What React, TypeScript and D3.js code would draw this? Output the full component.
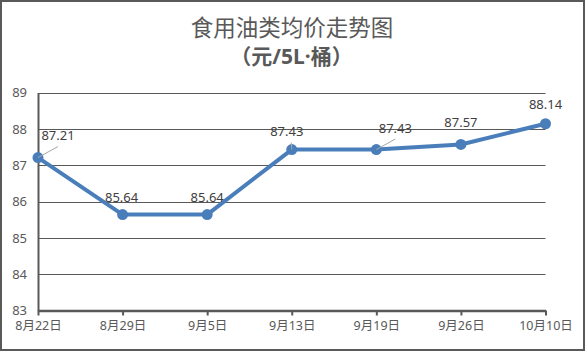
import React, { useEffect, useRef } from 'react';
import * as d3 from 'd3';

const categories = ['8月22日', '8月29日', '9月5日', '9月13日', '9月19日', '9月26日', '10月10日'];
const prices = [87.21, 85.64, 85.64, 87.43, 87.43, 87.57, 88.14];
const yTicks = [83, 84, 85, 86, 87, 88, 89];

// label offsets from the point (dx, dy, leader line?)
const labelPos: [number, number, boolean][] = [
  [20, -22, true],
  [-1, -17, false],
  [0, -17, false],
  [-5, -18, true],
  [19, -21, true],
  [0, -22, false],
  [0, -19, false],
];

const W = 586;
const H = 352;
const font = '"Noto Sans", "Noto Sans CJK SC", sans-serif';
const textColor = '#595959';

export default function App() {
  const ref = useRef<SVGSVGElement>(null);

  useEffect(() => {
    const svg = d3.select(ref.current);
    svg.selectAll('*').remove();

    const left = 38;
    const right = 545.5;
    const top = 92.5;
    const bottom = 310.5;

    const x = d3.scalePoint<string>().domain(categories).range([left, right]);
    const y = d3.scaleLinear().domain([83, 89]).range([bottom, top]);

    svg.append('rect')
      .attr('x', 1).attr('y', 1)
      .attr('width', W - 3).attr('height', H - 3)
      .attr('fill', '#fff')
      .attr('stroke', '#595959')
      .attr('stroke-width', 2);

    svg.append('text')
      .attr('x', 292).attr('y', 35.5)
      .attr('text-anchor', 'middle')
      .attr('font-family', font)
      .attr('font-size', 22.5)
      .attr('fill', textColor)
      .text('食用油类均价走势图');

    svg.append('text')
      .attr('x', 291.5).attr('y', 64)
      .attr('text-anchor', 'middle')
      .attr('font-family', font)
      .attr('font-size', 21)
      .attr('font-weight', 'bold')
      .attr('fill', textColor)
      .text('（元/5L·桶）');

    // gridlines
    svg.append('g')
      .selectAll('line')
      .data(yTicks.slice(1))
      .join('line')
      .attr('x1', left).attr('x2', right)
      .attr('y1', d => Math.round(y(d)) + 0.5)
      .attr('y2', d => Math.round(y(d)) + 0.5)
      .attr('stroke', '#595959')
      .attr('stroke-width', 1);

    // y axis
    const gy = svg.append('g')
      .attr('transform', `translate(${left},0)`)
      .call(d3.axisLeft(y).tickValues(yTicks).tickFormat(d3.format('d')).tickSize(0).tickPadding(11));
    gy.select('.domain').attr('stroke', '#595959').attr('stroke-width', 2);
    gy.selectAll('text')
      .attr('font-family', font)
      .attr('font-size', 13)
      .attr('fill', textColor);

    // x axis
    const gx = svg.append('g')
      .attr('transform', `translate(0,${bottom})`)
      .call(d3.axisBottom(x).tickSize(5).tickPadding(6).tickSizeOuter(0));
    gx.select('.domain').attr('stroke', '#595959').attr('stroke-width', 2.5);
    gx.selectAll('.tick line').attr('stroke', '#595959').attr('stroke-width', 2);
    gx.selectAll('text')
      .attr('font-family', font)
      .attr('font-size', 12.5)
      .attr('fill', textColor);

    const data = categories.map((c, i) => ({ c, v: prices[i], i }));

    const line = d3.line<{ c: string; v: number }>()
      .x(d => x(d.c)!)
      .y(d => y(d.v));

    svg.append('path')
      .datum(data)
      .attr('d', line)
      .attr('fill', 'none')
      .attr('stroke', '#4a7ebb')
      .attr('stroke-width', 4)
      .attr('stroke-linejoin', 'round');

    svg.append('g')
      .selectAll('circle')
      .data(data)
      .join('circle')
      .attr('cx', d => x(d.c)!)
      .attr('cy', d => y(d.v))
      .attr('r', 5.5)
      .attr('fill', '#4a7ebb');

    // leader lines
    svg.append('g')
      .selectAll('line')
      .data(data.filter(d => labelPos[d.i][2]))
      .join('line')
      .attr('x1', d => x(d.c)!)
      .attr('y1', d => y(d.v))
      .attr('x2', d => x(d.c)! + labelPos[d.i][0] * (d.i === 3 ? 0.1 : 1))
      .attr('y2', d => y(d.v) + (d.i === 3 ? -7 : labelPos[d.i][1] / 2))
      .attr('stroke', '#a6a6a6')
      .attr('stroke-width', 1);

    svg.append('g')
      .selectAll('text')
      .data(data)
      .join('text')
      .attr('x', d => x(d.c)! + labelPos[d.i][0])
      .attr('y', d => y(d.v) + labelPos[d.i][1])
      .attr('dy', '0.35em')
      .attr('text-anchor', 'middle')
      .attr('font-family', font)
      .attr('font-size', 13)
      .attr('fill', '#404040')
      .text(d => d.v.toFixed(2));
  }, []);

  return <svg ref={ref} width={W} height={H} style={{ position: 'absolute', left: 0, top: 0 }} />;
}
